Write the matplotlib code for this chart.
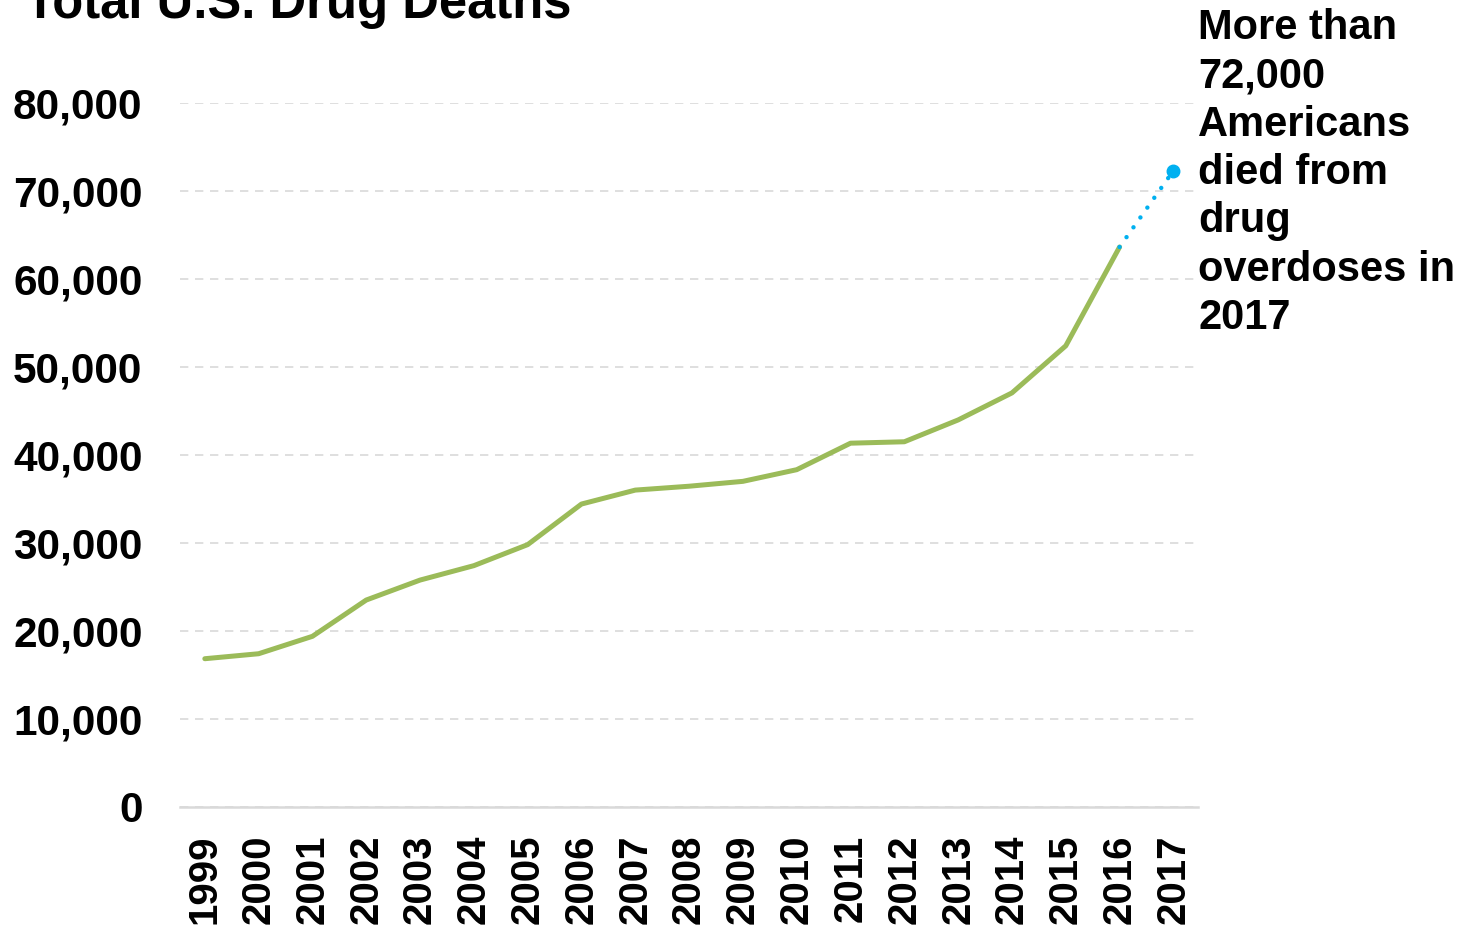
import matplotlib.pyplot as plt
from matplotlib.ticker import FuncFormatter

# Values
years = ['1999', '2000', '2001', '2002', '2003', '2004', '2005', '2006', '2007',
         '2008', '2009', '2010', '2011', '2012', '2013', '2014', '2015', '2016', '2017']
deaths = [16849, 17415, 19394, 23518, 25785, 27424, 29813, 34425, 36010,
          36450, 37004, 38329, 41340, 41502, 43982, 47055, 52404, 63632]
deaths_2017 = 72306
yticks = [0, 10000, 20000, 30000, 40000, 50000, 60000, 70000, 80000]

title = 'Total U.S. Drug Deaths'
note = 'More than\n72,000\nAmericans\ndied from\ndrug\noverdoses in\n2017'

plt.rcParams['font.family'] = ['Liberation Sans', 'DejaVu Sans']
plt.rcParams['font.weight'] = 'bold'

green = '#9BBB59'
blue = '#00B0F0'
grid_grey = '#D9D9D9'

fig = plt.figure(figsize=(14.64, 9.31), dpi=100)
ax = fig.add_axes([0.1230, 0.1332, 0.6954, 0.7562])

x = list(range(len(years)))

# solid line 1999-2016
ax.plot(x[:len(deaths)], deaths, color=green, lw=3.6, solid_capstyle='round',
        solid_joinstyle='round', zorder=3)
# dotted projection to 2017
ax.plot([x[len(deaths) - 1], x[-1]], [deaths[-1], deaths_2017], color=blue, lw=3.2,
        linestyle=(0, (0.01, 2.7)), dash_capstyle='round', zorder=3)
ax.plot([x[-1]], [deaths_2017], 'o', color=blue, markersize=9, zorder=4)

ax.set_xlim(-0.46, len(years) - 1 + 0.46)
ax.set_ylim(0, 80000)
ax.set_yticks(yticks)
ax.yaxis.set_major_formatter(FuncFormatter(lambda v, p: f'{int(v):,}'))
ax.set_xticks(x)
ax.set_xticklabels(years, rotation=90)

ax.tick_params(axis='y', length=0, pad=27, labelsize=30.5)
ax.tick_params(axis='x', length=0, pad=20, labelsize=29)
for lbl in ax.get_xticklabels() + ax.get_yticklabels():
    lbl.set_fontweight('bold')

ax.grid(axis='y', color=grid_grey, linestyle=(0, (5, 4)), lw=1.2, zorder=0)
ax.set_axisbelow(True)
for side in ['top', 'right', 'left']:
    ax.spines[side].set_visible(False)
ax.spines['bottom'].set_color(grid_grey)
ax.spines['bottom'].set_linewidth(1.8)
ax.spines['bottom'].set_zorder(1)

fig.text(25 / 1464, 1 - 18 / 931, title, fontsize=36.5, fontweight='bold',
         ha='left', va='baseline')
fig.text(1198 / 1464, 1 - 8 / 931, note, fontsize=30, fontweight='bold',
         ha='left', va='top', linespacing=1.27)

fig.savefig('out.png', dpi=100)
